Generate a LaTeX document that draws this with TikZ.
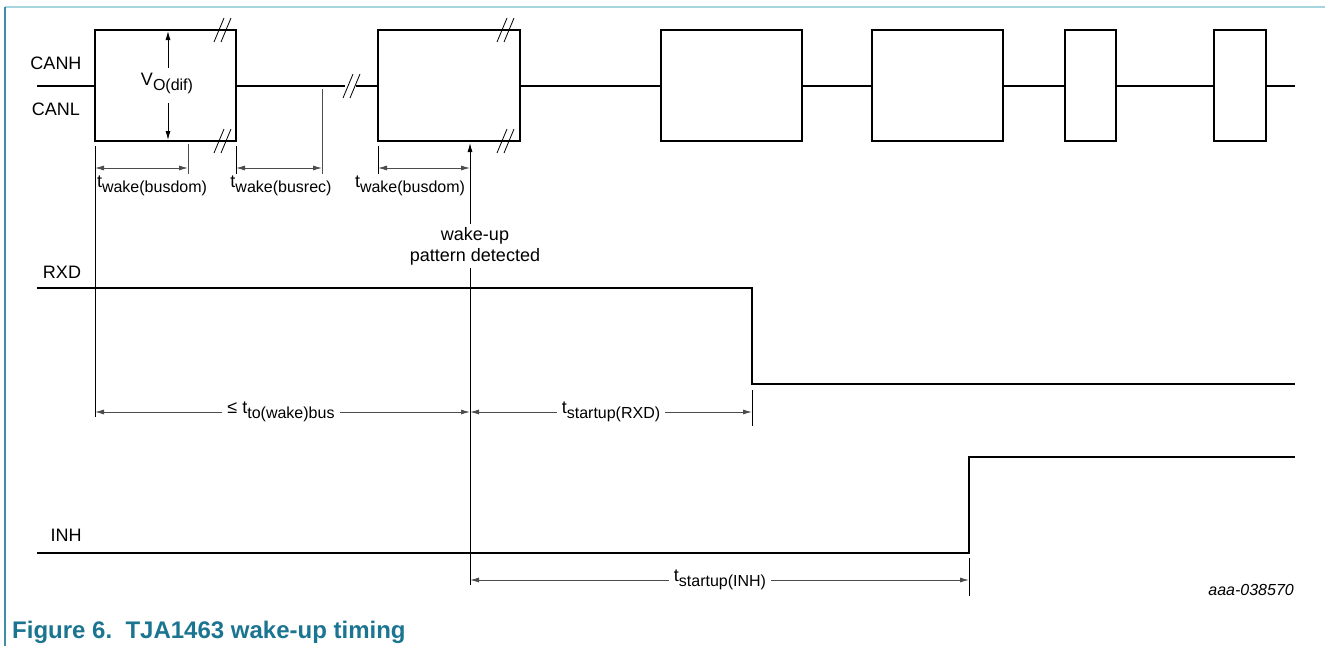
\documentclass[tikz,border=0pt]{standalone}
\usepackage{fontspec}
\setmainfont{Liberation Sans}
\usetikzlibrary{arrows.meta}
\definecolor{capteal}{HTML}{1B7490}
\definecolor{frametop}{HTML}{A6D6DD}
\definecolor{frameleft}{HTML}{3E8FA6}
\newcommand\myfs[1]{\fontsize{#1}{#1}\selectfont}
\newcommand\tsb[2]{#1\raisebox{-5pt}{\myfs{16}#2}}
\newcommand\brkmark[2]{%
  \draw[brk] (#1-9,#2+12) -- (#1+1,#2-12);
  \draw[brk] (#1-2,#2+12) -- (#1+8,#2-12);}
\begin{document}
\begin{tikzpicture}[x=1pt,y=-1pt,
  sig/.style={line width=2.9pt, line join=miter, line cap=butt},
  thinl/.style={line width=0.9pt},
  tick/.style={line width=0.9pt, draw=black!70},
  dim/.style={line width=0.9pt, draw=black!70, {Latex[length=9pt,width=5pt]}-{Latex[length=9pt,width=5pt]}},
  brk/.style={line width=0.8pt},
  lbl/.style={font=\myfs{18}, inner sep=1pt},
  dlbl/.style={lbl, fill=white, inner xsep=5pt}]
\useasboundingbox (0,0) rectangle (1325,646);
% frame
\draw[frametop, line width=1.5pt] (5,7) -- (1325,7);
\draw[frameleft, line width=1.2pt] (5,7) -- (5,646);

% labels
\node[lbl] (canh) at (56,63) {CANH};
\node[lbl] (canl) at (56,109) {CANL};
\node[lbl] (rxd) at (62,272) {RXD};
\node[lbl] (inh) at (66,535) {INH};

% CAN bus
\draw[sig] (95,30) rectangle (236,141);
\draw[sig] (378,30) rectangle (520,141);
\draw[sig] (661,30) rectangle (802,141);
\draw[sig] (872,30) rectangle (1003,141);
\draw[sig] (1065,30) rectangle (1116,141);
\draw[sig] (1214,30) rectangle (1266,141);
\draw[sig] (37,86) -- (95,86) (236,86) -- (378,86) (520,86) -- (661,86)
  (802,86) -- (872,86) (1003,86) -- (1065,86) (1116,86) -- (1214,86) (1266,86) -- (1295,86);
% break marks
\fill[white] (345,80) rectangle (356,92);
\brkmark{352}{86}
\brkmark{223}{30}
\brkmark{223}{141}
\brkmark{506}{30}
\brkmark{506}{141}

% V_O(dif)
\node[lbl] (vo) at (167,83) {\tsb{V}{O(dif)}};
\draw[thinl,-{Latex[length=9pt,width=5pt]}] (168,68) -- (168,31);
\draw[thinl,-{Latex[length=9pt,width=5pt]}] (168,103) -- (168,140);

% ticks
\draw[thinl] (95,146) -- (95,417);
\draw[tick] (188,144) -- (188,174);
\draw[thinl] (236,146) -- (236,174);
\draw[tick] (322,89) -- (322,174);
\draw[thinl] (378,146) -- (378,174);

% t_wake dims
\coordinate (d1a) at (95,168); \coordinate (d1b) at (188,168);
\coordinate (d2a) at (236,168); \coordinate (d2b) at (322,168);
\coordinate (d3a) at (378,168); \coordinate (d3b) at (470,168);
\draw[dim] (d1a) -- (d1b);
\draw[dim] (d2a) -- (d2b);
\draw[dim] (d3a) -- (d3b);
\node[lbl] (tw1) at (152,186) {\tsb{t}{wake(busdom)}};
\node[lbl] (tw2) at (281,186) {\tsb{t}{wake(busrec)}};
\node[lbl] (tw3) at (410,186) {\tsb{t}{wake(busdom)}};

% wake-up pattern detected
\coordinate (wbot) at (470,585);
\coordinate (wtop) at (470,143);
\draw[thinl,-{Latex[length=9pt,width=5pt]}] (wbot) -- (wtop);
\node[lbl, fill=white, align=center, font=\fontsize{18}{21}\selectfont, inner ysep=3pt] (wk) at (475,246) {wake-up\\pattern detected};

% RXD
\draw[sig] (37,288) -- (752,288) -- (752,384) -- (1295,384);
% INH
\draw[sig] (37,553) -- (969,553) -- (969,457) -- (1295,457);

% dims
\draw[thinl] (752,390) -- (752,426);
\draw[thinl] (969,558) -- (969,596);
\coordinate (e1a) at (95,412); \coordinate (e1b) at (470,412);
\coordinate (e2a) at (470,412); \coordinate (e2b) at (752,412);
\coordinate (e3a) at (470,580); \coordinate (e3b) at (969,580);
\draw[dim] (e1a) -- (e1b);
\draw[dim] (e2a) -- (e2b);
\draw[dim] (e3a) -- (e3b);
\node[dlbl] (tto) at (281,412) {≤ \tsb{t}{to(wake)bus}};
\node[dlbl] (tsr) at (611,412) {\tsb{t}{startup(RXD)}};
\node[dlbl] (tsi) at (720,580) {\tsb{t}{startup(INH)}};

\node[anchor=east, font=\myfs{16}\itshape, inner sep=0pt] (code) at (1294,590) {aaa-038570};
\node[anchor=west, font=\myfs{24}\bfseries, text=capteal, inner sep=0pt] (cap) at (12,632) {Figure 6.\ \ TJA1463 wake-up timing};
\end{tikzpicture}
\end{document}
